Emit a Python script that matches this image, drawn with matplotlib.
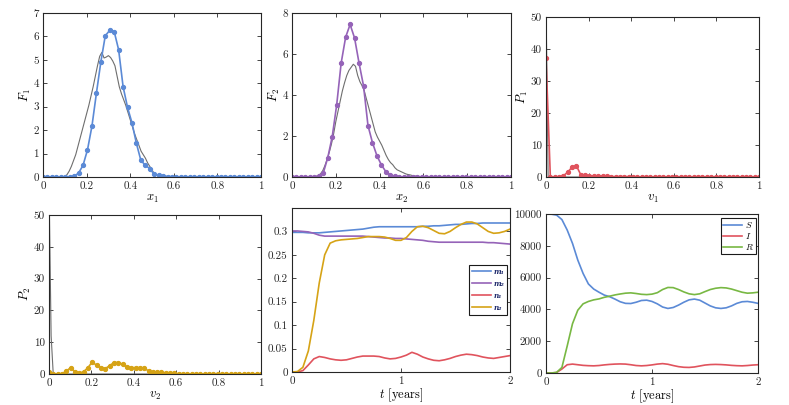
import numpy as np
import matplotlib
matplotlib.use("Agg")
import matplotlib.pyplot as plt
from matplotlib.ticker import FuncFormatter, MultipleLocator

plt.rcParams['font.family'] = ['cmr10', 'DejaVu Serif']
plt.rcParams['mathtext.fontset'] = 'cm'
plt.rcParams['axes.formatter.use_mathtext'] = True

# ---------------- data ----------------
x_bins = np.linspace(0, 1, 50)
x_ref = np.linspace(0, 1, 101)

F1 = [0, 0, 0, 0, 0, 0, 0, 0.03, 0.17, 0.5, 1.16, 2.17, 3.57, 4.91, 6.03, 6.26, 6.21,
      5.43, 3.86, 2.97, 2.31, 1.43, 0.71, 0.5, 0.36, 0.11, 0.07, 0.05, 0.02, 0.01] + [0] * 20
F2 = [0, 0, 0, 0, 0, 0, 0.05, 0.2, 0.94, 1.97, 3.52, 5.56, 6.82, 7.44, 6.78, 5.56, 4.45,
      2.51, 1.68, 1.04, 0.59, 0.26, 0.1, 0.04, 0.01] + [0] * 25
P1 = [37.3, 0, 0, 0, 0.4, 1.5, 3.1, 3.5, 0.7, 0.5, 0.4, 0.3, 0.3, 0.3, 0.2, 0.1, 0.1,
      0.1, 0.1, 0.1, 0.1] + [0] * 29
P2 = [0.5, 0, 0, 0.1, 0.9, 2.0, 0.7, 0.3, 0.7, 2.0, 3.8, 2.7, 2.0, 1.7, 2.6, 3.6, 3.6,
      3.1, 2.1, 2.0, 2.0, 2.0, 1.8, 1.0, 0.5, 0.5, 0.5, 0.4, 0.3, 0.2, 0.1, 0.05, 0.05,
      0, 0, 0, 0, 0, 0, 0.15, 0, 0, 0, 0, 0, 0, 0, 0, 0, 0]

F1_ref = [0] * 11 + [0.1, 0.25, 0.45, 0.7, 0.95, 1.3, 1.65, 2.0, 2.35, 2.7, 3.05, 3.45, 3.85,
                     4.3, 4.75, 5.15, 5.32, 5.08, 5.12, 5.18, 5.1, 4.95, 4.75, 4.3, 3.85,
                     3.55, 3.3, 3.05, 2.75, 2.45, 2.15, 1.85, 1.6, 1.35, 1.1, 0.95, 0.8,
                     0.6, 0.45, 0.3, 0.15, 0.1, 0.08, 0.06, 0.04, 0.03, 0.02, 0.01] + [0] * 42
F2_ref = [0] * 11 + [0.03, 0.08, 0.15, 0.3, 0.55, 0.85, 1.2, 1.6, 2.1, 2.7, 3.2, 3.7, 4.2,
                     4.6, 4.95, 5.2, 5.35, 5.5, 5.4, 4.95, 4.65, 4.45, 4.2, 3.8, 3.4, 3.0,
                     2.6, 2.2, 1.95, 1.75, 1.55, 1.3, 1.05, 0.85, 0.7, 0.6, 0.45, 0.35,
                     0.3, 0.25, 0.2, 0.15, 0.12, 0.1, 0.07, 0.05, 0.04, 0.03, 0.02, 0.01] + [0] * 40
P1_ref = [55] + [0] * 100
P2_ref = [60, 12] + [0] * 99

t = np.linspace(0, 2, 41)
m1 = [0.298, 0.298, 0.298, 0.297, 0.297, 0.297, 0.298, 0.299, 0.300, 0.301, 0.302, 0.303,
      0.304, 0.305, 0.307, 0.309, 0.310, 0.310, 0.310, 0.310, 0.310, 0.310, 0.310, 0.310,
      0.311, 0.311, 0.312, 0.312, 0.313, 0.314, 0.315, 0.315, 0.316, 0.317, 0.317, 0.318,
      0.318, 0.318, 0.318, 0.318, 0.318]
m2 = [0.301, 0.301, 0.300, 0.299, 0.296, 0.292, 0.290, 0.290, 0.290, 0.290, 0.290, 0.290,
      0.290, 0.290, 0.289, 0.288, 0.287, 0.286, 0.286, 0.285, 0.285, 0.284, 0.283, 0.282,
      0.281, 0.279, 0.278, 0.277, 0.277, 0.277, 0.277, 0.277, 0.277, 0.277, 0.277, 0.277,
      0.276, 0.276, 0.275, 0.274, 0.273]
n1 = [0.000, 0.000, 0.003, 0.015, 0.028, 0.033, 0.031, 0.028, 0.026, 0.025, 0.026, 0.029,
      0.032, 0.034, 0.034, 0.034, 0.033, 0.030, 0.028, 0.029, 0.032, 0.036, 0.042, 0.038,
      0.032, 0.028, 0.025, 0.024, 0.026, 0.029, 0.033, 0.036, 0.038, 0.037, 0.035, 0.032,
      0.030, 0.029, 0.031, 0.033, 0.035]
n2 = [0.000, 0.001, 0.010, 0.045, 0.110, 0.190, 0.250, 0.275, 0.280, 0.282, 0.283, 0.284,
      0.285, 0.287, 0.289, 0.289, 0.289, 0.288, 0.285, 0.281, 0.281, 0.287, 0.300, 0.310,
      0.311, 0.308, 0.302, 0.296, 0.295, 0.300, 0.308, 0.315, 0.320, 0.320, 0.316, 0.308,
      0.300, 0.296, 0.297, 0.300, 0.305]
S = [10000, 9990, 9930, 9650, 8990, 8150, 7100, 6260, 5600, 5280, 5080, 4900, 4800, 4650,
     4480, 4380, 4370, 4450, 4560, 4580, 4500, 4350, 4150, 4060, 4120, 4270, 4450, 4600,
     4650, 4580, 4400, 4220, 4100, 4060, 4100, 4220, 4380, 4480, 4500, 4450, 4380]
I = [0, 0, 30, 250, 520, 560, 520, 480, 460, 450, 470, 510, 540, 560, 570, 560, 520, 470,
     450, 470, 510, 560, 590, 550, 470, 400, 360, 350, 380, 440, 500, 530, 540, 530, 510,
     480, 460, 450, 470, 500, 520]
R = [0, 0, 40, 350, 1700, 3100, 3950, 4350, 4500, 4600, 4660, 4760, 4830, 4910, 4970,
     5020, 5040, 5000, 4950, 4930, 4960, 5050, 5250, 5380, 5370, 5250, 5100, 4980, 4930,
     4980, 5120, 5250, 5330, 5370, 5350, 5280, 5180, 5080, 5020, 5040, 5080]

mn_labels = ['m\u2081', 'm\u2082', 'n\u2081', 'n\u2082']
sir_labels = ['$S$', '$I$', '$R$']

# ---------------- style ----------------
BLUE = '#5b8ad6'
PURPLE = '#9563b8'
RED = '#e0535d'
GOLD = '#d6a316'
GREEN = '#78b843'
GRAY = '#6e6e6e'

W, H = 789, 405
fig = plt.figure(figsize=(W / 100, H / 100), dpi=100)


def add_ax(left, right, top, bottom):
    return fig.add_axes([left / W, 1 - bottom / H, (right - left) / W, (bottom - top) / H])


fmt = FuncFormatter(lambda v, p: '%g' % round(v, 6))


def style(ax):
    for s in ax.spines.values():
        s.set_linewidth(0.8)
        s.set_color('#262626')
    ax.tick_params(direction='in', top=True, right=True, length=3, width=0.6,
                   labelsize=8, pad=3, colors='#262626')
    ax.xaxis.set_major_formatter(fmt)
    ax.yaxis.set_major_formatter(fmt)


LBL = 9

# top-left
ax = add_ax(43, 261, 13, 177)
ax.plot(x_ref, F1_ref, color=GRAY, lw=0.8)
ax.plot(x_bins, F1, color=BLUE, lw=1.2, marker='o', ms=2.8)
ax.set_xlim(0, 1); ax.set_ylim(0, 7)
ax.xaxis.set_major_locator(MultipleLocator(0.2)); ax.yaxis.set_major_locator(MultipleLocator(1))
ax.set_xlabel('$x_1$', fontsize=LBL, labelpad=1.5)
ax.set_ylabel('$F_1$', fontsize=LBL, labelpad=0.5)
style(ax)

# top-middle
ax = add_ax(292, 511, 13, 177)
ax.plot(x_ref, F2_ref, color=GRAY, lw=0.8)
ax.plot(x_bins, F2, color=PURPLE, lw=1.2, marker='o', ms=2.8)
ax.set_xlim(0, 1); ax.set_ylim(0, 8)
ax.xaxis.set_major_locator(MultipleLocator(0.2)); ax.yaxis.set_major_locator(MultipleLocator(2))
ax.set_xlabel('$x_2$', fontsize=LBL, labelpad=1.5)
ax.set_ylabel('$F_2$', fontsize=LBL, labelpad=0.5)
style(ax)

# top-right
ax = add_ax(546, 759, 17, 177)
ax.plot(x_ref, P1_ref, color=GRAY, lw=0.8)
ax.plot(x_bins, P1, color=RED, lw=1.2, marker='o', ms=2.8)
ax.set_xlim(0, 1); ax.set_ylim(0, 50)
ax.xaxis.set_major_locator(MultipleLocator(0.2)); ax.yaxis.set_major_locator(MultipleLocator(10))
ax.set_xlabel('$v_1$', fontsize=LBL, labelpad=1.5)
ax.set_ylabel('$P_1$', fontsize=LBL, labelpad=0.5)
style(ax)

# bottom-left
ax = add_ax(49, 261, 215, 374)
ax.plot(x_ref, P2_ref, color=GRAY, lw=0.8)
ax.plot(x_bins, P2, color=GOLD, lw=1.2, marker='o', ms=2.8)
ax.set_xlim(0, 1); ax.set_ylim(0, 50)
ax.xaxis.set_major_locator(MultipleLocator(0.2)); ax.yaxis.set_major_locator(MultipleLocator(10))
ax.set_xlabel('$v_2$', fontsize=LBL, labelpad=1.5)
ax.set_ylabel('$P_2$', fontsize=LBL, labelpad=0.5)
style(ax)

# bottom-middle
ax = add_ax(292, 510, 208, 372)
for y, c, lab in zip([m1, m2, n1, n2], [BLUE, PURPLE, RED, GOLD], mn_labels):
    ax.plot(t, y, color=c, lw=1.2, label=lab)
ax.set_xlim(0, 2); ax.set_ylim(0, 0.35)
ax.xaxis.set_major_locator(MultipleLocator(1))
ax.set_yticks([0, 0.05, 0.1, 0.15, 0.2, 0.25, 0.3])
ax.set_xlabel('$t$ [years]', fontsize=LBL, labelpad=0.5)
style(ax)
leg = ax.legend(loc='upper left', bbox_to_anchor=(469 / W, 1 - 265 / H),
                bbox_transform=fig.transFigure,
                prop={'family': 'DejaVu Serif', 'weight': 'bold', 'style': 'italic', 'size': 5.2},
                frameon=True, fancybox=False, edgecolor='#1a1a1a', framealpha=1,
                handlelength=2.7, handletextpad=0.3, borderpad=0.4, labelspacing=0.55,
                borderaxespad=0)
leg.get_frame().set_linewidth(0.8)
for txt in leg.get_texts():
    txt.set_color('#1f2a6b')

# bottom-right
ax = add_ax(546, 758, 214, 373)
for y, c, lab in zip([S, I, R], [BLUE, RED, GREEN], sir_labels):
    ax.plot(t, y, color=c, lw=1.2, label=lab)
ax.set_xlim(0, 2); ax.set_ylim(0, 10000)
ax.xaxis.set_major_locator(MultipleLocator(1)); ax.yaxis.set_major_locator(MultipleLocator(2000))
ax.set_xlabel('$t$ [years]', fontsize=LBL, labelpad=0.5)
style(ax)
leg = ax.legend(loc='upper left', bbox_to_anchor=(721 / W, 1 - 218 / H),
                bbox_transform=fig.transFigure, fontsize=6.5, frameon=True,
                fancybox=False, edgecolor='#1a1a1a', framealpha=1, handlelength=2.1,
                handletextpad=0.3, borderpad=0.25, labelspacing=0.1, borderaxespad=0)
leg.get_frame().set_linewidth(0.8)

fig.savefig('out.png', dpi=100)
